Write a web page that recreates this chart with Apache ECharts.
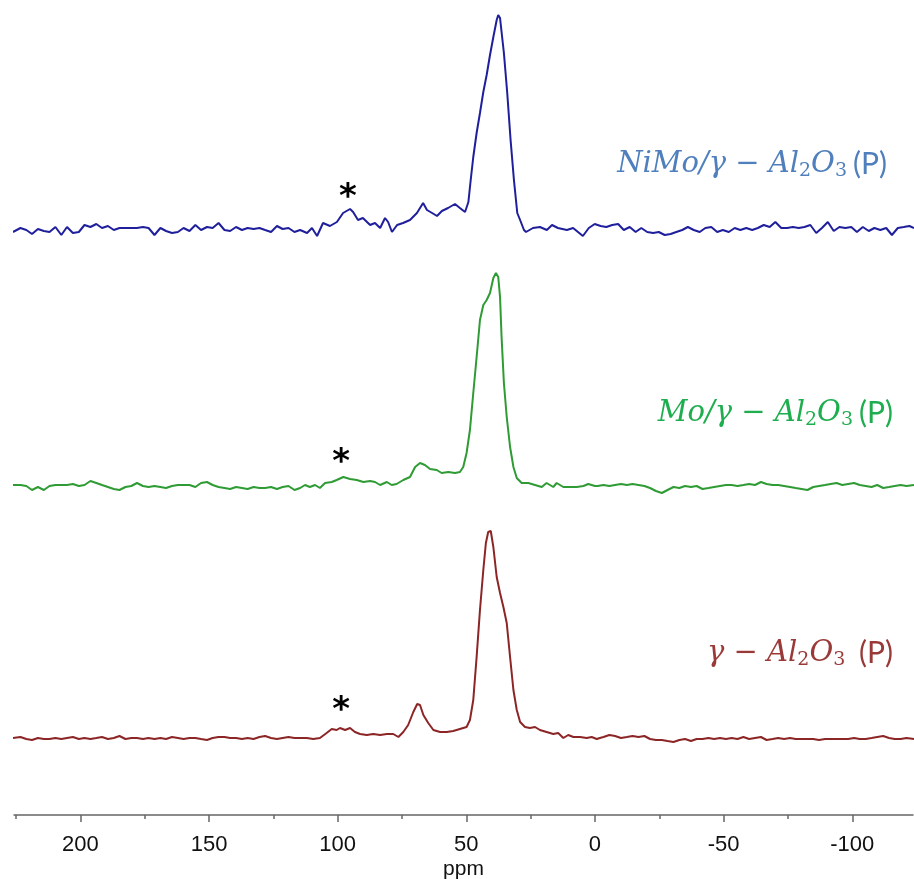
<!DOCTYPE html>
<html>
<head>
<meta charset="utf-8">
<script src="https://cdn.jsdelivr.net/npm/echarts@6/dist/echarts.min.js"></script>
<style>
  html, body { margin: 0; padding: 0; background: #ffffff; }
  #chart { width: 914px; height: 879px; }
</style>
</head>
<body>
<div id="chart"></div>
<script>
// 31P MAS NMR spectra, chemical shift (ppm) vs. intensity above each baseline.

const ppmMajorTicks = [200, 150, 100, 50, 0, -50, -100];
const ppmMinorTicks = [225, 175, 125, 75, 25, -25, -75];
const ppmRange = [-123.6, 225.8];

const sampleLabels = [
  '{m|NiMo/γ − Al}{s2|2}{m|O}{s3|3}{p|(P)}',
  '{m|Mo/γ − Al}{s2|2}{m|O}{s3|3}{p|(P)}',
  '{m|γ − Al}{s2|2}{m|O}{s3|3}{p| (P)}'
];

const nimoTrace = [
  [226.2,-2],[223.3,2],[221,0],[218.8,-4],[216.5,1],[214.2,-1],[212,-2],[209.7,3],[207.4,-5],[205.2,3],
  [202.9,-3],[200.6,-2],[198.4,5],[196.1,3],[193.8,6],[191.6,2],[189.3,4],[187,0],[184.8,2],[182.5,2],
  [180.2,2],[178,2],[175.7,3],[173.5,2],[171.2,-5],[168.9,2],[166.7,-1],[164.4,-3],[162.1,-2],[159.9,2],
  [157.6,-1],[155.3,5],[153.1,0],[150.8,3],[148.6,2],[146.3,7],[144,0],[141.8,-1],[139.5,3],[137.2,0],
  [135,2],[132.7,1],[130.4,2],[128.2,0],[125.9,-2],[123.6,4],[121.4,1],[119.1,2],[116.8,-2],
  [114.6,0],[111.9,-3],[110,2],[108,-6],[105.7,7],[103,4],[100.3,8],[97.9,17],[95.2,21],[94,18],
  [92.1,10],[90.2,12],[87.4,5],[85.5,7],[83.5,2],[81.6,12],[80.4,8],[78.9,-2],[76.9,5],[74.6,7],
  [71.9,10],[69.2,17],[66.8,27],[65.3,20],[63.3,17],[61.4,14],[59.5,19],[57.1,22],[54.4,26],[52.5,22],
  [50.5,18],[49.2,28],[48.3,50],[47.3,73],[46,97],[44.7,117],[43.4,138],[42.1,155],[40.8,175],[39.5,193],
  [38.2,210],[37.6,215],[36.9,212],[35.4,177],[34.1,137],[32.8,90],[31.5,50],[30.2,17],[29.1,10],[27.6,0],
  [26.8,-2],[24.1,2],[21.4,3],[18.7,0],[16.7,5],[14.4,2],[10.9,0],[8.5,2],[4.7,-6],[2.4,2],
  [0.1,6],[-2.2,4],[-4.4,3],[-6.7,5],[-9,6],[-11.2,0],[-13.5,3],[-15.8,-2],[-18,2],[-20.3,-2],
  [-22.6,-3],[-24.8,-2],[-27.1,-5],[-29.4,-4],[-31.6,-2],[-33.9,0],[-36.1,3],[-38.4,0],[-40.7,-2],[-42.9,2],
  [-45.2,3],[-47.5,-2],[-49.7,0],[-52,-2],[-54.3,2],[-56.5,0],[-58.8,2],[-61.1,0],[-63.3,2],[-65.6,5],
  [-67.9,3],[-70.1,8],[-72.4,2],[-74.7,2],[-76.9,3],[-79.2,2],[-81.4,3],[-83.7,5],[-86,-3],[-88.2,2],
  [-90.5,8],[-92.8,-1],[-95,3],[-97.3,2],[-99.6,3],[-101.8,-2],[-104.1,3],[-106.4,-1],[-108.6,2],[-110.9,0],
  [-113.2,2],[-115.4,-5],[-117.7,2],[-120,3],[-122.2,4],[-124,2]
];

const moTrace = [
  [226.2,2],[223.3,2],[221,1],[218.8,-3],[216.5,0],[214.2,-3],[212,1],[209.7,2],[207.4,2],[205.2,2],
  [202.9,3],[200.6,1],[198.4,2],[196.1,6],[193.8,4],[191.6,2],[189.3,0],[187,-2],[184.8,-3],[182.5,0],
  [180.2,1],[178,4],[175.7,1],[173.5,0],[171.2,1],[168.9,0],[166.7,-1],[164.4,1],[162.1,2],[159.9,2],
  [157.6,2],[155.3,0],[153.1,4],[150.8,5],[148.6,2],[146.3,0],[144,-1],[141.8,-2],[139.5,0],[137.2,-1],
  [135,-2],[132.7,0],[130.4,-1],[128.2,-1],[125.9,0],[123.6,-2],[121.4,0],[119.1,1],[116.8,-3],
  [114.6,-1],[112.7,2],[110.8,0],[108.8,2],[106.9,-1],[104.9,4],[102.3,5],[100.4,7],[97.8,10],[95.2,8],
  [92.6,7],[90,5],[87.4,6],[85.5,5],[83.5,2],[80.9,5],[79,2],[77.1,3],[74.5,7],[71.9,10],
  [69.9,20],[68,24],[66.1,22],[64.1,18],[61.5,17],[59.6,14],[57,15],[54.4,14],[52.5,15],[51.2,20],
  [49.9,34],[48.6,57],[47.3,94],[46,130],[44.7,167],[43.4,182],[42.1,187],[40.8,194],[39.5,209],[38.5,214],
  [37.6,210],[36.9,190],[36.3,150],[35.4,104],[34.3,70],[33,40],[31.7,20],[30.4,9],[28.5,4],[25.9,4],
  [23.3,2],[20.7,0],[18.8,4],[16.2,0],[14.9,4],[12.3,0],[9.7,0],[7.1,0],[4.5,1],[2.6,3],
  [0,1],[-1,1],[-3.3,2],[-5.6,1],[-7.8,2],[-10.1,3],[-12.4,2],[-14.6,3],[-16.9,2],[-19.2,1],
  [-21.4,-1],[-23.7,-4],[-26,-6],[-28.2,-3],[-30.5,0],[-32.8,-1],[-35,1],[-37.3,0],[-39.5,1],[-41.8,-2],
  [-44.1,-1],[-46.3,0],[-48.6,1],[-50.9,2],[-53.1,2],[-55.4,1],[-57.7,2],[-59.9,3],[-62.2,2],[-64.5,5],
  [-66.7,3],[-69,2],[-71.2,2],[-73.5,1],[-75.8,0],[-78,-1],[-80.3,-2],[-82.6,-3],[-84.8,0],[-87.1,1],
  [-89.4,2],[-91.6,3],[-93.9,4],[-96.1,2],[-98.4,3],[-100.7,4],[-102.9,2],[-105.2,1],[-107.5,0],[-109.7,2],
  [-112,-1],[-114.3,0],[-116.5,1],[-118.8,2],[-121.1,1],[-124,2]
];

const aluminaTrace = [
  [226.2,2],[223.3,3],[221,1],[218.8,0],[216.5,2],[214.2,1],[212,1],[209.7,2],[207.4,1],[205.2,2],
  [202.9,3],[200.6,1],[198.4,2],[196.1,1],[193.8,2],[191.6,3],[189.3,1],[187,2],[184.8,4],[182.5,1],
  [180.2,2],[178,2],[175.7,1],[173.5,2],[171.2,1],[168.9,2],[166.7,1],[164.4,3],[162.1,2],[159.9,1],
  [157.6,2],[155.3,2],[153.1,1],[150.8,0],[148.6,2],[146.3,3],[144,3],[141.8,2],[139.5,2],[137.2,1],
  [135,2],[132.7,1],[130.4,3],[128.2,4],[125.9,2],[123.6,1],[121.4,2],[119.1,3],[116.8,2],
  [114.6,2],[112,2],[109.5,1],[106.9,2],[104.3,7],[102.3,11],[100.4,10],[99.1,12],[97.1,10],[95.2,12],
  [93.3,8],[91.3,6],[88.7,5],[86.2,6],[83.5,5],[80.9,6],[78.4,6],[76.4,3],[74.5,8],[72.6,15],
  [70.6,28],[69.1,36],[68,35],[66.7,25],[64.8,17],[62.8,10],[60.2,8],[57.6,8],[55.1,9],[52.5,11],
  [49.9,13],[48.6,20],[47.3,40],[46,83],[44.7,130],[43.4,170],[42.4,197],[41.5,208],[40.5,209],[39.5,193],
  [38.2,163],[36.9,147],[35.6,133],[34.3,117],[33,83],[31.7,50],[30.4,30],[29.1,18],[27.2,13],[25.3,12],
  [23.3,13],[21.4,10],[18.8,8],[16.2,6],[14.3,7],[12.3,2],[10.4,5],[8.4,3],[5.8,3],[3.2,2],
  [1.3,3],[-0.7,1],[-1.9,2],[-3.3,3],[-5.6,5],[-7.8,4],[-10.1,2],[-12.4,3],[-14.6,4],[-16.9,3],
  [-19.2,4],[-21.4,1],[-23.7,0],[-26,0],[-28.2,-1],[-30.5,-2],[-32.8,0],[-35,1],[-37.3,-1],[-39.5,1],
  [-41.8,1],[-44.1,2],[-46.3,1],[-48.6,2],[-50.9,1],[-53.1,2],[-55.4,1],[-57.7,3],[-59.9,1],[-62.2,2],
  [-64.5,3],[-66.7,0],[-69,1],[-71.2,2],[-73.5,1],[-75.8,2],[-78,1],[-80.3,1],[-82.6,1],[-84.8,1],
  [-87.1,0],[-89.4,1],[-91.6,1],[-93.9,1],[-96.1,1],[-98.4,1],[-100.7,2],[-102.9,1],[-105.2,1],[-107.5,2],
  [-109.7,3],[-112,4],[-114.3,2],[-116.5,1],[-118.8,1],[-121.1,2],[-124,1]
];

// spinning side band markers: [ppm, intensity]
const sidebandMarks = [[96, 41], [98.7, 33], [98.7, 38]];

const traceColors = ['#1f1f9c', '#2f9b34', '#8c2525'];
const labelColors = ['#4f7fbd', '#1fae4f', '#9a3a38'];

const chart = echarts.init(document.getElementById('chart'), null, { renderer: 'canvas' });

const gridLeft = 14, gridRight = 1;
const grids = [
  { left: gridLeft, right: gridRight, top: 10, height: 260, outerBoundsMode: 'none' },
  { left: gridLeft, right: gridRight, top: 267, height: 260, outerBoundsMode: 'none' },
  { left: gridLeft, right: gridRight, top: 520, height: 295, outerBoundsMode: 'none' }
];

function hiddenX(i) {
  return { gridIndex: i, type: 'value', min: ppmRange[0], max: ppmRange[1], inverse: true, show: false };
}

const xAxes = [
  hiddenX(0),
  hiddenX(1),
  {
    gridIndex: 2, type: 'value', position: 'bottom', min: ppmRange[0], max: ppmRange[1], inverse: true,
    axisLine: { show: true, onZero: false, lineStyle: { color: '#666666', width: 1.5 } },
    axisTick: { show: true, customValues: ppmMajorTicks, length: 7, lineStyle: { color: '#666666', width: 1.5 } },
    axisLabel: { show: true, customValues: ppmMajorTicks, margin: 19, color: '#111111', fontSize: 22, fontFamily: 'Liberation Sans' },
    splitLine: { show: false },
    name: 'ppm', nameLocation: 'middle', nameGap: 44,
    nameTextStyle: { color: '#111111', fontSize: 21, fontFamily: 'Liberation Sans' }
  },
  {
    gridIndex: 2, type: 'value', position: 'bottom', offset: 0, min: ppmRange[0], max: ppmRange[1], inverse: true,
    axisLine: { show: false, onZero: false },
    axisTick: { show: true, customValues: ppmMinorTicks, length: 4, lineStyle: { color: '#666666', width: 1.5 } },
    axisLabel: { show: false },
    splitLine: { show: false }
  }
];

const yAxes = [
  { gridIndex: 0, type: 'value', min: -40, max: 220, show: false },
  { gridIndex: 1, type: 'value', min: -40, max: 220, show: false },
  { gridIndex: 2, type: 'value', min: -75, max: 220, show: false }
];

const traces = [nimoTrace, moTrace, aluminaTrace];
const series = traces.map((data, i) => ({
  type: 'line',
  xAxisIndex: i,
  yAxisIndex: i,
  data: data,
  showSymbol: false,
  symbol: 'none',
  smooth: false,
  lineStyle: { color: traceColors[i], width: 2 },
  markPoint: {
    symbol: 'circle',
    symbolSize: 1,
    itemStyle: { color: 'rgba(0,0,0,0)' },
    label: {
      show: true, position: 'inside', formatter: '*', offset: [0, 9],
      color: '#000000', fontSize: 34, fontWeight: 'bold', fontFamily: 'DejaVu Sans'
    },
    data: [{ coord: sidebandMarks[i] }]
  }
}));

function labelRich(color) {
  const serif = 'DejaVu Serif';
  return {
    m: { fontFamily: serif, fontStyle: 'italic', fontSize: 29, lineHeight: 34, fill: color },
    s2: { fontFamily: serif, fontSize: 19, lineHeight: 20, verticalAlign: 'bottom', fill: color },
    s3: { fontFamily: serif, fontSize: 19, lineHeight: 13, verticalAlign: 'bottom', fill: color },
    p: { fontFamily: 'Lato', fontSize: 30, lineHeight: 34, fill: color, padding: [0, 0, 0, 6] }
  };
}

const labelAnchors = [[887, 147], [893, 396], [893, 636]];
const graphics = sampleLabels.map((txt, i) => ({
  type: 'text',
  x: labelAnchors[i][0],
  y: labelAnchors[i][1],
  style: {
    text: txt,
    align: 'right',
    verticalAlign: 'top',
    rich: labelRich(labelColors[i])
  }
}));

chart.setOption({
  animation: false,
  backgroundColor: '#ffffff',
  grid: grids,
  xAxis: xAxes,
  yAxis: yAxes,
  series: series,
  graphic: graphics
});
</script>
</body>
</html>
